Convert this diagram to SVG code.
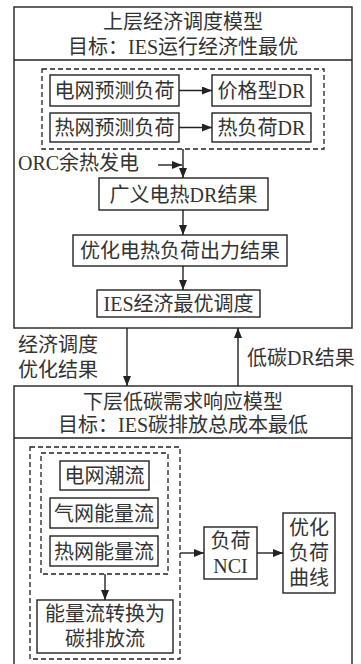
<svg xmlns="http://www.w3.org/2000/svg" width="361" height="664" viewBox="0 0 361 664">
<defs>
<marker id="ah" markerWidth="10" markerHeight="8" refX="10" refY="4" orient="auto" markerUnits="userSpaceOnUse">
<path d="M0,0 L10,4 L0,8 Z" fill="#222"/>
</marker>
<style>
.box{fill:#fff;stroke:#222;stroke-width:1.4}
.dash{fill:none;stroke:#222;stroke-width:1.3;stroke-dasharray:5,3}
.ln{fill:none;stroke:#222;stroke-width:1.4}
.con{fill:none;stroke:#222;stroke-width:1.4;marker-end:url(#ah)}
text{font-family:"Liberation Serif","Noto Sans CJK SC",serif;font-size:20px;fill:#333;dominant-baseline:central}
.c{text-anchor:middle}
</style>
</defs>
<rect width="361" height="664" fill="#fff"/>

<g id="upper">
<rect class="box" x="14" y="7" width="338" height="321"/>
<line class="ln" x1="14" y1="60" x2="352" y2="60"/>
<text class="c" x="183" y="22">上层经济调度模型</text>
<text class="c" x="183" y="47">目标：IES运行经济性最优</text>
<rect class="dash" x="42" y="69" width="282" height="80"/>
</g>
<g id="n1"><rect class="box" x="50" y="75" width="129" height="31"/><text class="c" x="114.5" y="91">电网预测负荷</text></g>
<g id="n2"><rect class="box" x="212" y="75" width="99" height="31"/><text class="c" x="261.5" y="91">价格型DR</text></g>
<g id="n3"><rect class="box" x="50" y="113" width="129" height="29"/><text class="c" x="114.5" y="128">热网预测负荷</text></g>
<g id="n4"><rect class="box" x="212" y="113" width="99" height="29"/><text class="c" x="261.5" y="128">热负荷DR</text></g>
<g id="orc"><text x="18" y="163">ORC余热发电</text></g>
<g id="n5"><rect class="box" x="99" y="178" width="169" height="32"/><text class="c" x="183.5" y="194.5">广义电热DR结果</text></g>
<g id="n6"><rect class="box" x="73" y="235" width="214" height="31"/><text class="c" x="180" y="251">优化电热负荷出力结果</text></g>
<g id="n7"><rect class="box" x="97" y="290" width="163" height="27"/><text class="c" x="178.5" y="304">IES经济最优调度</text></g>

<g id="lower">
<rect class="box" x="14" y="386" width="338" height="290"/>
<line class="ln" x1="14" y1="438" x2="352" y2="438"/>
<text class="c" x="183" y="402">下层低碳需求响应模型</text>
<text class="c" x="183" y="425">目标：IES碳排放总成本最低</text>
<rect class="dash" x="30" y="447" width="150" height="212"/>
<rect class="dash" x="41" y="453" width="127" height="121"/>
</g>
<g id="m1"><rect class="box" x="60" y="461" width="89" height="29"/><text class="c" x="104.5" y="476">电网潮流</text></g>
<g id="m2"><rect class="box" x="50" y="498" width="108" height="30"/><text class="c" x="104" y="513.5">气网能量流</text></g>
<g id="m3"><rect class="box" x="50" y="536" width="108" height="30"/><text class="c" x="104" y="551.5">热网能量流</text></g>
<g id="m4"><rect class="box" x="37" y="600" width="136" height="53"/><text class="c" x="105" y="614">能量流转换为</text><text class="c" x="105" y="639">碳排放流</text></g>
<g id="m5"><rect class="box" x="204" y="527" width="53" height="52"/><text class="c" x="230.5" y="541">负荷</text><text class="c" x="230.5" y="566">NCI</text></g>
<g id="m6"><rect class="box" x="283" y="513" width="52" height="80"/><text class="c" x="309" y="528">优化</text><text class="c" x="309" y="553">负荷</text><text class="c" x="309" y="578">曲线</text></g>

<g id="labels">
<text x="18" y="345">经济调度</text>
<text x="18" y="370">优化结果</text>
<text x="247" y="358">低碳DR结果</text>
</g>

<g id="connectors">
<line class="con" x1="179" y1="90.5" x2="212" y2="90.5"/>
<line class="con" x1="179" y1="127.5" x2="212" y2="127.5"/>
<line class="con" x1="158" y1="165" x2="182" y2="165"/>
<line class="con" x1="183" y1="149" x2="183" y2="178"/>
<line class="con" x1="183" y1="210" x2="183" y2="235"/>
<line class="con" x1="183" y1="266" x2="183" y2="290"/>
<line class="con" x1="127" y1="328" x2="127" y2="386"/>
<line class="con" x1="238" y1="386" x2="238" y2="328"/>
<line class="con" x1="105" y1="574" x2="105" y2="600"/>
<line class="con" x1="180" y1="553" x2="204" y2="553"/>
<line class="con" x1="257" y1="553" x2="283" y2="553"/>
</g>
</svg>
